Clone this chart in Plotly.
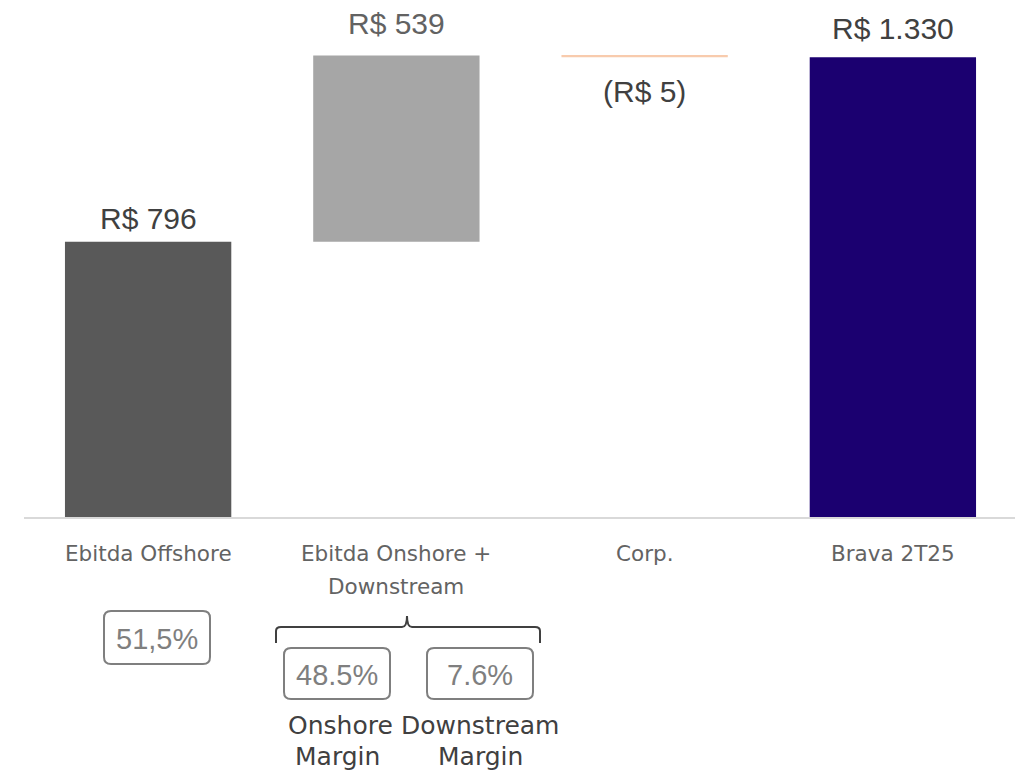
import plotly.graph_objects as go

# ---- data ----
categories = ["Ebitda Offshore", "Ebitda Onshore + Downstream", "Corp.", "Brava 2T25"]
cat_lines = [["Ebitda Offshore"], ["Ebitda Onshore +", "Downstream"], ["Corp."], ["Brava 2T25"]]
values = [796, 539, -5, 1330]
measures = ["relative", "relative", "relative", "total"]
value_labels = ["R$ 796", "R$ 539", "(R$ 5)", "R$ 1.330"]
bar_colors = ["#595959", "#a6a6a6", "#f8cbad", "#1b0070"]
label_colors = ["#404040", "#626262", "#404040", "#404040"]
label_shift = [23, 32, -36, 29]
offshore_margin = "51,5%"
onshore_margin = "48.5%"
downstream_margin = "7.6%"

# waterfall bases
bases, heights, tops = [], [], []
run = 0
for v, m in zip(values, measures):
    if m == "total":
        bases.append(0); heights.append(v); tops.append(v)
        run = v
    else:
        bases.append(run); heights.append(v)
        run += v
        tops.append(max(run, run - v))

# ---- layout geometry ----
OFF = 8                      # page body margin
W, H = 1023 - OFF, 770 - OFF
L, R, T, B = 24, 1017, 33, 517   # plot area in page pixels


def px(x):
    return (x - L) / (R - L)


def py(y):
    return (B - y) / (B - T)


def rrect(x0, y0, x1, y1, r=7):
    pts = [
        f"M {px(x0 + r)} {py(y0)}", f"L {px(x1 - r)} {py(y0)}",
        f"Q {px(x1)} {py(y0)} {px(x1)} {py(y0 + r)}", f"L {px(x1)} {py(y1 - r)}",
        f"Q {px(x1)} {py(y1)} {px(x1 - r)} {py(y1)}", f"L {px(x0 + r)} {py(y1)}",
        f"Q {px(x0)} {py(y1)} {px(x0)} {py(y1 - r)}", f"L {px(x0)} {py(y0 + r)}",
        f"Q {px(x0)} {py(y0)} {px(x0 + r)} {py(y0)} Z",
    ]
    return " ".join(pts)


fig = go.Figure()
fig.add_trace(go.Bar(
    x=categories, y=heights, base=bases,
    marker=dict(color=bar_colors, line=dict(width=0)),
    width=0.67, hoverinfo="skip",
))

annotations = []
# value labels
for c, t, txt, col, sh in zip(categories, tops, value_labels, label_colors, label_shift):
    annotations.append(dict(
        x=c, y=t, xref="x", yref="y", text=txt, showarrow=False,
        xanchor="center", yanchor="middle", yshift=sh,
        font=dict(family="Liberation Sans, Arial", size=30, color=col),
    ))

# category labels
for c, lines in zip(categories, cat_lines):
    for i, ln in enumerate(lines):
        annotations.append(dict(
            x=c, xref="x", y=py(553 + 33 * i), yref="paper", text=ln, showarrow=False,
            xanchor="center", yanchor="middle",
            font=dict(family="DejaVu Sans", size=21.5, color="#636363"),
        ))

# margin boxes text
for txt, cx, cy in [(offshore_margin, 157, 639), (onshore_margin, 337, 675), (downstream_margin, 480, 675)]:
    annotations.append(dict(
        x=px(cx), y=py(cy), xref="paper", yref="paper", text=txt, showarrow=False,
        xanchor="center", yanchor="middle",
        font=dict(family="Liberation Sans", size=29, color="#7f7f7f"),
    ))

for txt, cx, cy in [("Onshore", 340, 725), ("Margin", 337, 756), ("Downstream", 480, 725), ("Margin", 480, 756)]:
    annotations.append(dict(
        x=px(cx), y=py(cy), xref="paper", yref="paper", text=txt, showarrow=False,
        xanchor="center", yanchor="middle",
        font=dict(family="DejaVu Sans", size=25, color="#404040"),
    ))

shapes = []
for x0, y0, x1, y1 in [(104, 611, 210, 664), (284, 648, 390, 699), (427, 648, 533, 699)]:
    shapes.append(dict(type="path", xref="paper", yref="paper", path=rrect(x0, y0, x1, y1),
                       line=dict(color="#7f7f7f", width=2)))

brace = (f"M {px(276)} {py(643)} L {px(276)} {py(631)} Q {px(276)} {py(627)} {px(281)} {py(627)} "
         f"L {px(402)} {py(627)} Q {px(407)} {py(627)} {px(407)} {py(616)} "
         f"Q {px(407)} {py(627)} {px(412)} {py(627)} L {px(535)} {py(627)} "
         f"Q {px(540)} {py(627)} {px(540)} {py(631)} L {px(540)} {py(643)}")
shapes.append(dict(type="path", xref="paper", yref="paper", path=brace,
                   line=dict(color="#404040", width=2)))

fig.update_layout(
    width=W, height=H,
    margin=dict(l=L - OFF, r=W - (R - OFF), t=T - OFF, b=H - (B - OFF), pad=0),
    paper_bgcolor="white", plot_bgcolor="white",
    showlegend=False,
    xaxis=dict(showline=True, linecolor="#d9d9d9", linewidth=2, showticklabels=False,
               ticks="", showgrid=False, zeroline=False, fixedrange=True),
    yaxis=dict(visible=False, range=[0, 1400], showgrid=False, zeroline=False),
    annotations=annotations,
    shapes=shapes,
)

fig.write_html("out.html")
